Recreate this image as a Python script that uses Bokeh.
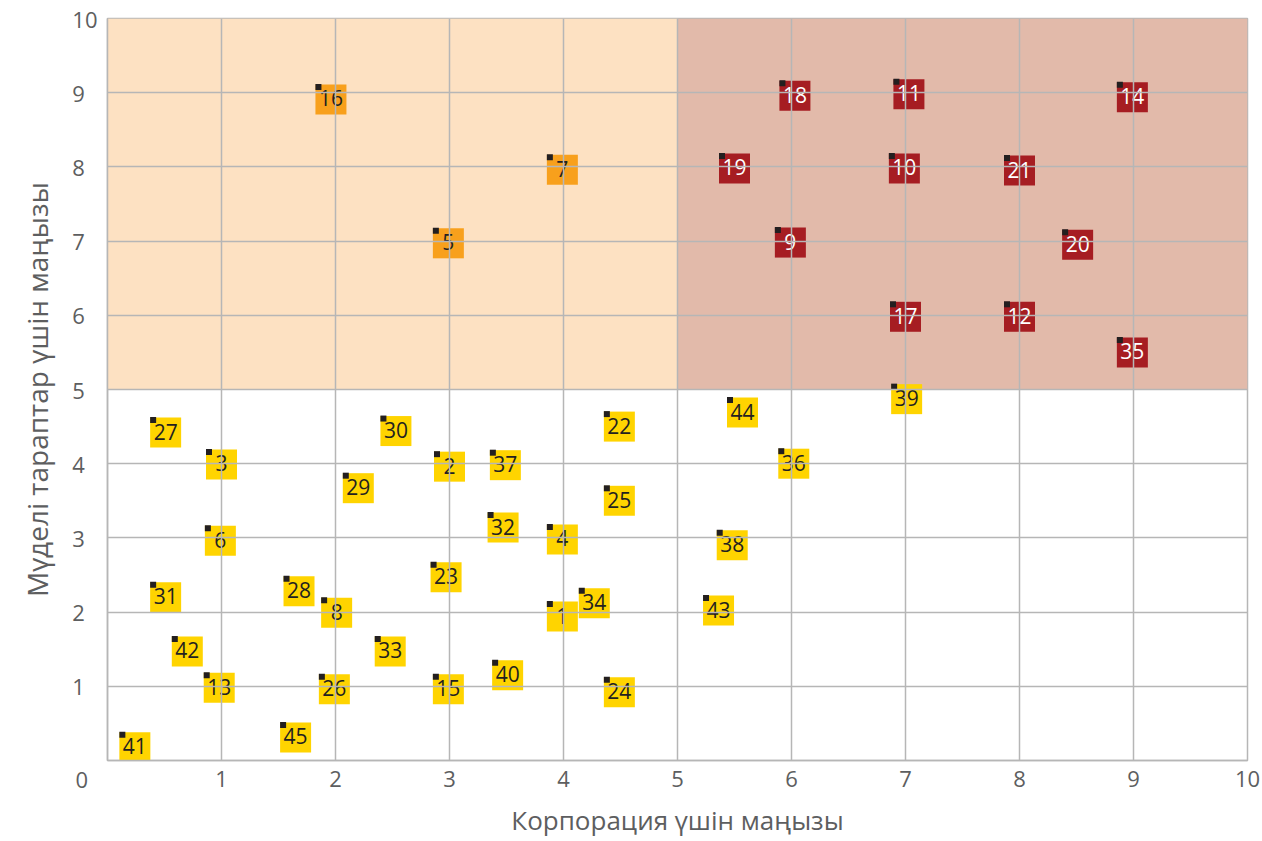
from bokeh.plotting import figure
from bokeh.models import ColumnDataSource, FixedTicker
from bokeh.transform import dodge
from bokeh.embed import file_html
from bokeh.resources import INLINE

# ---- data ----
labels = ["1", "2", "3", "4", "5", "6", "7", "8", "9", "10",
          "11", "12", "13", "14", "15", "16", "17", "18", "19", "20",
          "21", "22", "23", "24", "25", "26", "27", "28", "29", "30",
          "31", "32", "33", "34", "35", "36", "37", "38", "39", "40",
          "41", "42", "43", "44", "45"]
corp_importance = [3.99, 3.00, 1.00, 3.99, 2.99, 0.99, 3.99, 2.01, 5.99, 6.99,
                   7.03, 8.00, 0.98, 8.99, 2.99, 1.96, 7.00, 6.03, 5.50, 8.51,
                   8.00, 4.49, 2.97, 4.49, 4.49, 1.99, 0.51, 1.68, 2.20, 2.53,
                   0.51, 3.47, 2.48, 4.27, 8.99, 6.02, 3.49, 5.48, 7.01, 3.51,
                   0.24, 0.70, 5.36, 5.57, 1.65]
stakeholder_importance = [1.94, 3.96, 3.99, 2.98, 6.97, 2.96, 7.96, 1.99, 6.98, 7.98,
                          8.98, 5.98, 0.98, 8.94, 0.96, 8.91, 5.98, 8.96, 7.98, 6.95,
                          7.95, 4.50, 2.47, 0.92, 3.50, 0.96, 4.42, 2.28, 3.67, 4.44,
                          2.20, 3.14, 1.47, 2.12, 5.50, 4.00, 3.98, 2.90, 4.87, 1.15,
                          0.18, 1.47, 2.02, 4.69, 0.31]
group = ["y", "y", "y", "y", "o", "y", "o", "y", "r", "r",
         "r", "r", "y", "r", "y", "o", "r", "r", "r", "r",
         "r", "y", "y", "y", "y", "y", "y", "y", "y", "y",
         "y", "y", "y", "y", "r", "y", "y", "y", "y", "y",
         "y", "y", "y", "y", "y"]

zone_left = [0, 5]
zone_right = [5, 10]
zone_bottom = [5, 5]
zone_top = [10, 10]
zone_colors = ["#fde1c2", "#e2baaa"]

x_ticks = [1, 2, 3, 4, 5, 6, 7, 8, 9, 10]
grid_ticks = [1, 2, 3, 4, 5, 6, 7, 8, 9, 10]
y_ticks = [0, 1, 2, 3, 4, 5, 6, 7, 8, 9, 10]
y_tick_labels = ["0", "1", "2", "3", "4", "5", "6", "7", "8", "9", "10"]

x_title = "Корпорация үшін маңызы"
y_title = "Мүделі тараптар үшін маңызы"

box_fill = {"y": "#ffd400", "o": "#f8a01c", "r": "#a61d22"}
text_col = {"y": "#231f20", "o": "#231f20", "r": "#ffffff"}

FONT = "Open Sans"
GRID = "#b6b6b6"
TXT = "#5d5e60"
FS = "\u2007"   # figure space (digit width)
NB = "\u00a0"   # no-break space
SS = "\u2006"   # six-per-em space

W, H = 1262, 841
B_LEFT, B_RIGHT, B_TOP, B_BOTTOM = 107, 15, 18, 81
frame_w = W - B_LEFT - B_RIGHT
frame_h = H - B_TOP - B_BOTTOM

p = figure(width=W, height=H, x_range=(0, 10), y_range=(0, 10),
           output_backend="svg", toolbar_location=None,
           min_border_left=B_LEFT, min_border_right=B_RIGHT,
           min_border_top=B_TOP, min_border_bottom=B_BOTTOM)

p.background_fill_color = "white"
p.border_fill_color = "white"
p.outline_line_color = GRID
p.outline_line_width = 1.5

# quadrant backgrounds
p.quad(left=zone_left, right=zone_right, bottom=zone_bottom, top=zone_top,
       fill_color=zone_colors, line_color=None, level="underlay")

for g in (p.xgrid, p.ygrid):
    g.grid_line_color = GRID
    g.grid_line_width = 1.5
    g.level = "glyph"
p.xgrid.ticker = FixedTicker(ticks=grid_ticks)
p.ygrid.ticker = FixedTicker(ticks=grid_ticks)

for ax in (p.xaxis[0], p.yaxis[0]):
    ax.axis_line_color = GRID
    ax.axis_line_width = 1.5
    ax.major_tick_line_color = None
    ax.minor_tick_line_color = None
    ax.major_tick_out = 0
    ax.major_tick_in = 0
    ax.major_label_text_font = FONT
    ax.major_label_text_font_size = "22px"
    ax.major_label_text_color = TXT
    ax.axis_label_text_font = FONT
    ax.axis_label_text_font_style = "normal"
    ax.axis_label_text_color = TXT

p.xaxis.axis_label_text_font_size = "26px"
p.yaxis.axis_label_text_font_size = "28px"

p.xaxis.ticker = FixedTicker(ticks=x_ticks)
p.yaxis.ticker = FixedTicker(ticks=y_ticks)


def ylab(s):
    if s == "0":            # shared origin label, sits down at the x-label row
        return "\n" + s + NB + SS
    return s if len(s) > 1 else s + FS   # left-align one-digit labels


p.yaxis.major_label_overrides = {t: ylab(s) for t, s in zip(y_ticks, y_tick_labels)}
p.xaxis.axis_label = x_title
p.yaxis.axis_label = y_title
p.xaxis.major_label_standoff = 10
p.xaxis.axis_label_standoff = 12
p.yaxis.major_label_standoff = 10
p.yaxis.axis_label_standoff = 13

src = ColumnDataSource(dict(
    x=corp_importance, y=stakeholder_importance, label=labels,
    fill=[box_fill[g] for g in group], tcol=[text_col[g] for g in group]))

p.rect(x="x", y="y", width=31, height=30, width_units="screen", height_units="screen",
       fill_color="fill", line_color=None, source=src)

dx = -12.5 * 10 / frame_w
dy = 12.5 * 10 / frame_h
p.scatter(x=dodge("x", dx, range=p.x_range), y=dodge("y", dy, range=p.y_range),
          marker="square", size=6, fill_color="#231f20", line_color=None, source=src)

p.text(x="x", y="y", text="label", text_color="tcol", source=src,
       text_align="center", text_baseline="middle", y_offset=-1,
       text_font={"value": FONT}, text_font_size={"value": "21px"})

open("out.html", "w").write(file_html(p, INLINE))
